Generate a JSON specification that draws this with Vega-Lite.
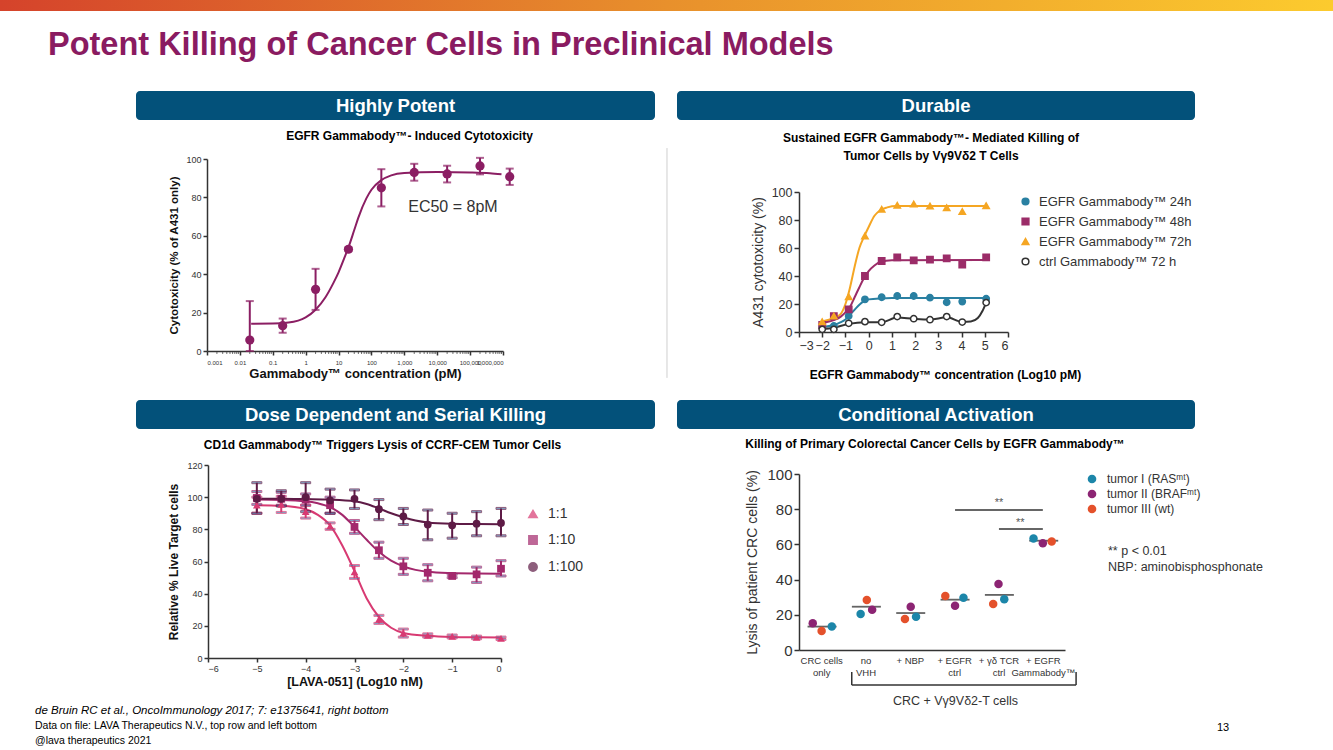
{
"$schema": "https://vega.github.io/schema/vega-lite/v6.json",
"padding": 0,
"background": "white",
"columns": 4,
"bounds": "flush",
"align": "each",
"spacing": 0,
"resolve": {
 "scale": {"x": "independent", "y": "independent", "color": "independent", "fill": "independent", "stroke": "independent", "shape": "independent"}
},
"config": {
 "view": {"stroke": null},
 "font": "Liberation Sans",
 "axis": {"grid": false, "domainColor": "#333333", "tickColor": "#333333", "labelColor": "#333333", "titleColor": "#111111", "domainWidth": 1.5, "tickWidth": 1.5, "labelOverlap": false}
},
"concat": [
 {
  "width": 136, "height": 91,
  "data": {"values": [{}]},
  "mark": {"type": "rect", "color": {"gradient": "linear", "x1": 0, "y1": 0, "x2": 1, "y2": 0, "stops": [{"offset": 0, "color": "#D5432B"}, {"offset": 0.5, "color": "#E8902C"}, {"offset": 1, "color": "#FCCB2E"}]}},
  "encoding": {
   "x": {"datum": 0, "type": "quantitative", "scale": {"domain": [0, 1], "range": [0, 1333], "nice": false}, "axis": null},
   "x2": {"datum": 1},
   "y": {"datum": 0, "type": "quantitative", "scale": {"domain": [0, 1], "range": [11, 0], "nice": false}, "axis": null},
   "y2": {"datum": 1}
  },
  "title": {"text": "Potent Killing of Cancer Cells in Preclinical Models", "orient": "bottom", "anchor": "start", "frame": "group", "dx": 48, "offset": -36, "baseline": "alphabetic", "fontSize": 32.5, "fontWeight": "bold", "color": "#8A1B61"}
 },
 {"width": 1, "height": 1, "data": {"values": []}, "mark": "text", "encoding": {}},
 {"width": 1, "height": 1, "data": {"values": []}, "mark": "text", "encoding": {}},
 {"width": 1, "height": 1, "data": {"values": []}, "mark": "text", "encoding": {}},

 {"width": 136, "height": 1, "data": {"values": []}, "mark": "text", "encoding": {}},
 {
  "width": 519, "height": 68,
  "data": {"values": [{"label": "Highly Potent"}]},
  "layer": [
   {"mark": {"type": "rect", "color": "#03517A", "cornerRadius": 4},
    "encoding": {"x": {"datum": 0, "type": "quantitative", "scale": {"domain": [0, 1], "nice": false}, "axis": null}, "x2": {"datum": 1}, "y": {"datum": 0, "type": "quantitative", "scale": {"domain": [0, 1], "range": [29, 0], "nice": false}, "axis": null}, "y2": {"datum": 1}}},
   {"mark": {"type": "text", "color": "white", "fontSize": 18.5, "fontWeight": "bold"},
    "encoding": {"x": {"datum": 0.5, "type": "quantitative"}, "y": {"datum": 0.5, "type": "quantitative"}, "text": {"field": "label"}}}
  ]
 },
 {"width": 22, "height": 1, "data": {"values": []}, "mark": "text", "encoding": {}},
 {
  "width": 518, "height": 68,
  "data": {"values": [{"label": "Durable"}]},
  "layer": [
   {"mark": {"type": "rect", "color": "#03517A", "cornerRadius": 4},
    "encoding": {"x": {"datum": 0, "type": "quantitative", "scale": {"domain": [0, 1], "nice": false}, "axis": null}, "x2": {"datum": 1}, "y": {"datum": 0, "type": "quantitative", "scale": {"domain": [0, 1], "range": [29, 0], "nice": false}, "axis": null}, "y2": {"datum": 1}}},
   {"mark": {"type": "text", "color": "white", "fontSize": 18.5, "fontWeight": "bold"},
    "encoding": {"x": {"datum": 0.5, "type": "quantitative"}, "y": {"datum": 0.5, "type": "quantitative"}, "text": {"field": "label"}}}
  ]
 },

 {"width": 1, "height": 1, "data": {"values": []}, "mark": "text", "encoding": {}},
 {
  "width": 519, "height": 192,
  "title": {"text": "EGFR Gammabody™- Induced Cytotoxicity", "fontSize": 12, "fontWeight": "bold", "color": "#000000", "anchor": "middle", "frame": "group", "dx": 14, "offset": 12},
  "layer": [
   {
    "data": {"values": [{"c":0.022,"y":14.2},{"c":0.1,"y":14.3},{"c":0.3,"y":14.8},{"c":1,"y":17.5},{"c":2,"y":21.5},{"c":4,"y":28},{"c":7,"y":35.5},{"c":10,"y":41},{"c":15,"y":48.5},{"c":20,"y":54},{"c":30,"y":63},{"c":40,"y":69.5},{"c":70,"y":79.5},{"c":100,"y":84},{"c":200,"y":89},{"c":400,"y":91.5},{"c":1000,"y":92.7},{"c":10000,"y":93.2},{"c":100000,"y":93},{"c":400000,"y":92.6},{"c":900000,"y":92}]},
    "mark": {"type": "line", "color": "#8B1E63", "strokeWidth": 2, "interpolate": "monotone"},
    "encoding": {
     "x": {"field": "c", "type": "quantitative", "title": "Gammabody™ concentration (pM)", "scale": {"type": "log", "domain": [0.001, 1000000], "range": [71, 367], "nice": false},
           "axis": {"values": [0.001, 0.01, 0.1, 1, 10, 100, 1000, 10000, 100000, 1000000], "tickCount": 20, "format": ",", "labelOverlap": false, "labelFontSize": 6, "tickSize": 4, "labelPadding": 4, "titleFontSize": 13, "titleFontWeight": "bold", "titlePadding": 2, "titleColor": "#111111"}},
     "y": {"field": "y", "type": "quantitative", "title": "Cytotoxicity (% of A431 only)", "scale": {"domain": [0, 100], "nice": false},
           "axis": {"values": [0, 20, 40, 60, 80, 100], "tickCount": 20, "format": "d", "labelOverlap": false, "offset": -71, "labelFontSize": 9, "tickSize": 4, "titleFontSize": 11.5, "titleFontWeight": "bold", "titlePadding": 6}}
    }
   },
   {
    "data": {"values": [{"m":0.002},{"m":0.003},{"m":0.004},{"m":0.005},{"m":0.006},{"m":0.007},{"m":0.008},{"m":0.009},{"m":0.02},{"m":0.03},{"m":0.04},{"m":0.05},{"m":0.06},{"m":0.07},{"m":0.08},{"m":0.09},{"m":0.2},{"m":0.3},{"m":0.4},{"m":0.5},{"m":0.6},{"m":0.7},{"m":0.8},{"m":0.9},{"m":2},{"m":3},{"m":4},{"m":5},{"m":6},{"m":7},{"m":8},{"m":9},{"m":20},{"m":30},{"m":40},{"m":50},{"m":60},{"m":70},{"m":80},{"m":90},{"m":200},{"m":300},{"m":400},{"m":500},{"m":600},{"m":700},{"m":800},{"m":900},{"m":2000},{"m":3000},{"m":4000},{"m":5000},{"m":6000},{"m":7000},{"m":8000},{"m":9000},{"m":20000},{"m":30000},{"m":40000},{"m":50000},{"m":60000},{"m":70000},{"m":80000},{"m":90000},{"m":200000},{"m":300000},{"m":400000},{"m":500000},{"m":600000},{"m":700000},{"m":800000},{"m":900000}]},
    "mark": {"type": "tick", "orient": "vertical", "size": 3, "thickness": 1, "color": "#333333", "yOffset": 1.5},
    "encoding": {"x": {"field": "m", "type": "quantitative", "title": "Gammabody™ concentration (pM)"}, "y": {"datum": 0, "type": "quantitative", "title": "Cytotoxicity (% of A431 only)"}}
   },
   {
    "data": {"values": [{"c":0.02,"y":5.7,"lo":0,"hi":26},{"c":0.2,"y":13.2,"lo":9.5,"hi":16.9},{"c":2,"y":32.1,"lo":21.4,"hi":42.8},{"c":20,"y":53,"lo":52,"hi":54},{"c":200,"y":85,"lo":75.3,"hi":94.7},{"c":2000,"y":93,"lo":88.7,"hi":97.5},{"c":20000,"y":92.2,"lo":87.8,"hi":96.5},{"c":200000,"y":96.4,"lo":92,"hi":100.6},{"c":1600000,"y":90.8,"lo":86.5,"hi":95}]},
    "layer": [
     {"mark": {"type": "errorbar", "ticks": {"size": 8}, "color": "#8B1E63", "thickness": 2},
      "encoding": {"x": {"field": "c", "type": "quantitative", "title": "Gammabody™ concentration (pM)"}, "y": {"field": "lo", "type": "quantitative", "title": "Cytotoxicity (% of A431 only)"}, "y2": {"field": "hi"}}},
     {"mark": {"type": "circle", "size": 85, "opacity": 1, "color": "#8B1E63"},
      "encoding": {"x": {"field": "c", "type": "quantitative", "title": "Gammabody™ concentration (pM)"}, "y": {"field": "y", "type": "quantitative", "title": "Cytotoxicity (% of A431 only)"}}}
    ]
   },
   {
    "data": {"values": [{"label": "EC50 = 8pM"}]},
    "mark": {"type": "text", "fontSize": 16, "color": "#333333"},
    "encoding": {"x": {"datum": 30000, "type": "quantitative"}, "y": {"datum": 75, "type": "quantitative"}, "text": {"field": "label"}}
   }
  ]
 },
 {
  "width": 22, "height": 192,
  "data": {"values": [{}]},
  "mark": {"type": "rule", "color": "#cfcfcf", "strokeWidth": 1},
  "encoding": {
   "x": {"datum": 0.545, "type": "quantitative", "scale": {"domain": [0, 1], "nice": false}, "axis": null},
   "y": {"datum": -0.14, "type": "quantitative", "scale": {"domain": [0, 1], "nice": false}, "axis": null},
   "y2": {"datum": 1.057}
  }
 },
 {
  "width": 518, "height": 173,
  "title": {"text": ["Sustained EGFR Gammabody™- Mediated Killing of", "Tumor Cells by Vγ9Vδ2 T Cells"], "fontSize": 12, "fontWeight": "bold", "color": "#000000", "anchor": "middle", "frame": "group", "dx": -5, "offset": -4, "lineHeight": 18},
  "layer": [
   {
    "data": {"values": [
     {"s":"EGFR Gammabody™ 72h","x":-2,"y":7.5},{"s":"EGFR Gammabody™ 72h","x":-1.5,"y":10},{"s":"EGFR Gammabody™ 72h","x":-1.2,"y":13},{"s":"EGFR Gammabody™ 72h","x":-1,"y":20},{"s":"EGFR Gammabody™ 72h","x":-0.8,"y":32},{"s":"EGFR Gammabody™ 72h","x":-0.6,"y":47},{"s":"EGFR Gammabody™ 72h","x":-0.4,"y":60},{"s":"EGFR Gammabody™ 72h","x":-0.2,"y":68},{"s":"EGFR Gammabody™ 72h","x":0,"y":75},{"s":"EGFR Gammabody™ 72h","x":0.25,"y":83},{"s":"EGFR Gammabody™ 72h","x":0.5,"y":87},{"s":"EGFR Gammabody™ 72h","x":0.8,"y":89},{"s":"EGFR Gammabody™ 72h","x":1.2,"y":90},{"s":"EGFR Gammabody™ 72h","x":5,"y":90},
     {"s":"EGFR Gammabody™ 48h","x":-2,"y":6.5},{"s":"EGFR Gammabody™ 48h","x":-1.5,"y":8.5},{"s":"EGFR Gammabody™ 48h","x":-1.2,"y":11},{"s":"EGFR Gammabody™ 48h","x":-1,"y":14},{"s":"EGFR Gammabody™ 48h","x":-0.8,"y":18},{"s":"EGFR Gammabody™ 48h","x":-0.6,"y":25},{"s":"EGFR Gammabody™ 48h","x":-0.4,"y":32},{"s":"EGFR Gammabody™ 48h","x":-0.2,"y":38.5},{"s":"EGFR Gammabody™ 48h","x":0,"y":43.5},{"s":"EGFR Gammabody™ 48h","x":0.25,"y":47.5},{"s":"EGFR Gammabody™ 48h","x":0.5,"y":50},{"s":"EGFR Gammabody™ 48h","x":1,"y":51.2},{"s":"EGFR Gammabody™ 48h","x":5,"y":51.5},
     {"s":"EGFR Gammabody™ 24h","x":-2,"y":3.5},{"s":"EGFR Gammabody™ 24h","x":-1.5,"y":5},{"s":"EGFR Gammabody™ 24h","x":-1.2,"y":7},{"s":"EGFR Gammabody™ 24h","x":-1,"y":9},{"s":"EGFR Gammabody™ 24h","x":-0.8,"y":12.5},{"s":"EGFR Gammabody™ 24h","x":-0.6,"y":16},{"s":"EGFR Gammabody™ 24h","x":-0.4,"y":19.5},{"s":"EGFR Gammabody™ 24h","x":-0.2,"y":22},{"s":"EGFR Gammabody™ 24h","x":0,"y":23.3},{"s":"EGFR Gammabody™ 24h","x":0.5,"y":24},{"s":"EGFR Gammabody™ 24h","x":1,"y":24.2},{"s":"EGFR Gammabody™ 24h","x":5,"y":24.2},
     {"s":"ctrl Gammabody™ 72 h","x":-2,"y":2},{"s":"ctrl Gammabody™ 72 h","x":-1.5,"y":3},{"s":"ctrl Gammabody™ 72 h","x":-0.86,"y":5.8},{"s":"ctrl Gammabody™ 72 h","x":-0.16,"y":7},{"s":"ctrl Gammabody™ 72 h","x":0.56,"y":7},{"s":"ctrl Gammabody™ 72 h","x":1.23,"y":10.3},{"s":"ctrl Gammabody™ 72 h","x":1.94,"y":9.4},{"s":"ctrl Gammabody™ 72 h","x":2.64,"y":8.9},{"s":"ctrl Gammabody™ 72 h","x":3.36,"y":10.5},{"s":"ctrl Gammabody™ 72 h","x":4.03,"y":7.2},{"s":"ctrl Gammabody™ 72 h","x":4.4,"y":7.5},{"s":"ctrl Gammabody™ 72 h","x":4.7,"y":10},{"s":"ctrl Gammabody™ 72 h","x":4.9,"y":15},{"s":"ctrl Gammabody™ 72 h","x":5.06,"y":21}
    ]},
    "mark": {"type": "line", "strokeWidth": 2, "interpolate": "monotone"},
    "encoding": {
     "x": {"field": "x", "type": "quantitative", "title": "EGFR Gammabody™ concentration (Log10 pM)", "scale": {"domain": [-3, 6], "range": [122, 331], "nice": false},
           "axis": {"values": [-3, -2, -1, 0, 1, 2, 3, 4, 5, 6], "tickCount": 20, "format": "d", "labelOverlap": false, "labelFontSize": 12.5, "tickSize": 5, "titleFontSize": 12, "titleFontWeight": "bold", "titleColor": "#000000", "titlePadding": 18, "titleX": 268, "titleAlign": "center"}},
     "y": {"field": "y", "type": "quantitative", "title": "A431 cytotoxicity (%)", "scale": {"domain": [0, 100], "range": [173, 33], "nice": false},
           "axis": {"values": [0, 20, 40, 60, 80, 100], "tickCount": 20, "format": "d", "labelOverlap": false, "offset": -122, "labelFontSize": 12.5, "tickSize": 5, "titleFontSize": 14, "titleFontWeight": "normal", "titleColor": "#333333", "titlePadding": 6}},
     "stroke": {"field": "s", "type": "nominal", "scale": {"domain": ["EGFR Gammabody™ 24h", "EGFR Gammabody™ 48h", "EGFR Gammabody™ 72h", "ctrl Gammabody™ 72 h"], "range": ["#2A80A2", "#9B2C68", "#F5A623", "#333333"]},
                "legend": {"title": null, "orient": "none", "legendX": 342, "legendY": 36, "labelFontSize": 13, "labelColor": "#333333", "rowPadding": 6, "symbolSize": 45, "symbolStrokeWidth": 1.5, "labelOffset": 7}}
    }
   },
   {
    "data": {"values": [
     {"s":"EGFR Gammabody™ 24h","x":-2,"y":3.8},{"s":"EGFR Gammabody™ 24h","x":-1.5,"y":4.3},{"s":"EGFR Gammabody™ 24h","x":-0.86,"y":11.4},{"s":"EGFR Gammabody™ 24h","x":-0.16,"y":23.3},{"s":"EGFR Gammabody™ 24h","x":0.56,"y":24.8},{"s":"EGFR Gammabody™ 24h","x":1.23,"y":25.7},{"s":"EGFR Gammabody™ 24h","x":1.94,"y":25.7},{"s":"EGFR Gammabody™ 24h","x":2.64,"y":24.5},{"s":"EGFR Gammabody™ 24h","x":3.36,"y":21.2},{"s":"EGFR Gammabody™ 24h","x":4.03,"y":21.7},{"s":"EGFR Gammabody™ 24h","x":5.06,"y":23.8},
     {"s":"EGFR Gammabody™ 48h","x":-2,"y":5},{"s":"EGFR Gammabody™ 48h","x":-1.5,"y":11.4},{"s":"EGFR Gammabody™ 48h","x":-0.86,"y":16.2},{"s":"EGFR Gammabody™ 48h","x":-0.16,"y":40},{"s":"EGFR Gammabody™ 48h","x":0.56,"y":50.7},{"s":"EGFR Gammabody™ 48h","x":1.23,"y":53.3},{"s":"EGFR Gammabody™ 48h","x":1.94,"y":51.2},{"s":"EGFR Gammabody™ 48h","x":2.64,"y":51.7},{"s":"EGFR Gammabody™ 48h","x":3.36,"y":52.6},{"s":"EGFR Gammabody™ 48h","x":4.03,"y":48.1},{"s":"EGFR Gammabody™ 48h","x":5.06,"y":53.3},
     {"s":"EGFR Gammabody™ 72h","x":-2,"y":7.4},{"s":"EGFR Gammabody™ 72h","x":-1.5,"y":11.4},{"s":"EGFR Gammabody™ 72h","x":-0.86,"y":25.2},{"s":"EGFR Gammabody™ 72h","x":-0.16,"y":68.6},{"s":"EGFR Gammabody™ 72h","x":0.56,"y":87.6},{"s":"EGFR Gammabody™ 72h","x":1.23,"y":90.5},{"s":"EGFR Gammabody™ 72h","x":1.94,"y":91.4},{"s":"EGFR Gammabody™ 72h","x":2.64,"y":90},{"s":"EGFR Gammabody™ 72h","x":3.36,"y":88.8},{"s":"EGFR Gammabody™ 72h","x":4.03,"y":86},{"s":"EGFR Gammabody™ 72h","x":5.06,"y":90.2},
     {"s":"ctrl Gammabody™ 72 h","x":-2,"y":1.9},{"s":"ctrl Gammabody™ 72 h","x":-1.5,"y":1.9},{"s":"ctrl Gammabody™ 72 h","x":-0.86,"y":6.2},{"s":"ctrl Gammabody™ 72 h","x":-0.16,"y":7.4},{"s":"ctrl Gammabody™ 72 h","x":0.56,"y":6.9},{"s":"ctrl Gammabody™ 72 h","x":1.23,"y":11},{"s":"ctrl Gammabody™ 72 h","x":1.94,"y":9.5},{"s":"ctrl Gammabody™ 72 h","x":2.64,"y":8.8},{"s":"ctrl Gammabody™ 72 h","x":3.36,"y":11},{"s":"ctrl Gammabody™ 72 h","x":4.03,"y":7.1},{"s":"ctrl Gammabody™ 72 h","x":5.06,"y":21}
    ]},
    "mark": {"type": "point", "strokeWidth": 1.5, "opacity": 1, "size": 40},
    "encoding": {
     "x": {"field": "x", "type": "quantitative", "title": "EGFR Gammabody™ concentration (Log10 pM)"},
     "y": {"field": "y", "type": "quantitative", "title": "A431 cytotoxicity (%)"},
     "shape": {"field": "s", "type": "nominal", "scale": {"domain": ["EGFR Gammabody™ 24h", "EGFR Gammabody™ 48h", "EGFR Gammabody™ 72h", "ctrl Gammabody™ 72 h"], "range": ["circle", "square", "triangle-up", "circle"]},
               "legend": {"title": null, "orient": "none", "legendX": 342, "legendY": 36, "labelFontSize": 13, "labelColor": "#333333", "rowPadding": 6, "symbolSize": 45, "symbolStrokeWidth": 1.5, "labelOffset": 7}},
     "fill": {"field": "s", "type": "nominal", "scale": {"domain": ["EGFR Gammabody™ 24h", "EGFR Gammabody™ 48h", "EGFR Gammabody™ 72h", "ctrl Gammabody™ 72 h"], "range": ["#2A80A2", "#9B2C68", "#F5A623", "#FFFFFF"]},
              "legend": {"title": null, "orient": "none", "legendX": 342, "legendY": 36, "labelFontSize": 13, "labelColor": "#333333", "rowPadding": 6, "symbolSize": 45, "symbolStrokeWidth": 1.5, "labelOffset": 7}},
     "stroke": {"field": "s", "type": "nominal",
                "legend": {"title": null, "orient": "none", "legendX": 342, "legendY": 36, "labelFontSize": 13, "labelColor": "#333333", "rowPadding": 6, "symbolSize": 45, "symbolStrokeWidth": 1.5, "labelOffset": 7}}
    }
   }
  ]
 },

 {"width": 1, "height": 49, "data": {"values": []}, "mark": "text", "encoding": {}},
 {"width": 1, "height": 1, "data": {"values": []}, "mark": "text", "encoding": {}},
 {"width": 1, "height": 1, "data": {"values": []}, "mark": "text", "encoding": {}},
 {"width": 1, "height": 1, "data": {"values": []}, "mark": "text", "encoding": {}},

 {"width": 1, "height": 1, "data": {"values": []}, "mark": "text", "encoding": {}},
 {
  "width": 519, "height": 65,
  "data": {"values": [{"label": "Dose Dependent and Serial Killing"}]},
  "layer": [
   {"mark": {"type": "rect", "color": "#03517A", "cornerRadius": 4},
    "encoding": {"x": {"datum": 0, "type": "quantitative", "scale": {"domain": [0, 1], "nice": false}, "axis": null}, "x2": {"datum": 1}, "y": {"datum": 0, "type": "quantitative", "scale": {"domain": [0, 1], "range": [29, 0], "nice": false}, "axis": null}, "y2": {"datum": 1}}},
   {"mark": {"type": "text", "color": "white", "fontSize": 18.5, "fontWeight": "bold"},
    "encoding": {"x": {"datum": 0.5, "type": "quantitative"}, "y": {"datum": 0.5, "type": "quantitative"}, "text": {"field": "label"}}}
  ]
 },
 {"width": 1, "height": 1, "data": {"values": []}, "mark": "text", "encoding": {}},
 {
  "width": 518, "height": 65,
  "data": {"values": [{"label": "Conditional Activation"}]},
  "layer": [
   {"mark": {"type": "rect", "color": "#03517A", "cornerRadius": 4},
    "encoding": {"x": {"datum": 0, "type": "quantitative", "scale": {"domain": [0, 1], "nice": false}, "axis": null}, "x2": {"datum": 1}, "y": {"datum": 0, "type": "quantitative", "scale": {"domain": [0, 1], "range": [29, 0], "nice": false}, "axis": null}, "y2": {"datum": 1}}},
   {"mark": {"type": "text", "color": "white", "fontSize": 18.5, "fontWeight": "bold"},
    "encoding": {"x": {"datum": 0.5, "type": "quantitative"}, "y": {"datum": 0.5, "type": "quantitative"}, "text": {"field": "label"}}}
  ]
 },

 {"width": 1, "height": 1, "data": {"values": []}, "mark": "text", "encoding": {}},
 {
  "width": 519, "height": 193,
  "title": {"text": "CD1d Gammabody™ Triggers Lysis of CCRF-CEM Tumor Cells", "fontSize": 12, "fontWeight": "bold", "color": "#000000", "anchor": "middle", "frame": "group", "dx": -13, "offset": 9},
  "layer": [
   {
    "data": {"values": [
     {"s":"1:1","x":-5,"y":95},{"s":"1:1","x":-4.5,"y":94.6},{"s":"1:1","x":-4,"y":92.5},{"s":"1:1","x":-3.75,"y":89},{"s":"1:1","x":-3.5,"y":82.5},{"s":"1:1","x":-3.25,"y":70},{"s":"1:1","x":-3,"y":54},{"s":"1:1","x":-2.75,"y":37},{"s":"1:1","x":-2.5,"y":25.5},{"s":"1:1","x":-2.25,"y":18.8},{"s":"1:1","x":-2,"y":15.6},{"s":"1:1","x":-1.5,"y":13.8},{"s":"1:1","x":-1,"y":13.1},{"s":"1:1","x":-0.5,"y":12.9},{"s":"1:1","x":0,"y":12.8},
     {"s":"1:10","x":-5,"y":98.5},{"s":"1:10","x":-4.5,"y":98.3},{"s":"1:10","x":-4,"y":97.5},{"s":"1:10","x":-3.75,"y":96.2},{"s":"1:10","x":-3.5,"y":93.8},{"s":"1:10","x":-3.25,"y":89},{"s":"1:10","x":-3,"y":81.5},{"s":"1:10","x":-2.75,"y":73.5},{"s":"1:10","x":-2.5,"y":66},{"s":"1:10","x":-2.25,"y":60.5},{"s":"1:10","x":-2,"y":57},{"s":"1:10","x":-1.75,"y":54.8},{"s":"1:10","x":-1.5,"y":53.6},{"s":"1:10","x":-1,"y":52.8},{"s":"1:10","x":-0.5,"y":52.5},{"s":"1:10","x":0,"y":52.4},
     {"s":"1:100","x":-5,"y":99},{"s":"1:100","x":-4.5,"y":99},{"s":"1:100","x":-4,"y":98.8},{"s":"1:100","x":-3.5,"y":98.5},{"s":"1:100","x":-3,"y":97.5},{"s":"1:100","x":-2.75,"y":95.8},{"s":"1:100","x":-2.5,"y":93},{"s":"1:100","x":-2.25,"y":90},{"s":"1:100","x":-2,"y":87.5},{"s":"1:100","x":-1.75,"y":85.5},{"s":"1:100","x":-1.5,"y":84.3},{"s":"1:100","x":-1,"y":83.5},{"s":"1:100","x":-0.5,"y":83.3},{"s":"1:100","x":0,"y":83.2}
    ]},
    "mark": {"type": "line", "strokeWidth": 2, "interpolate": "monotone"},
    "encoding": {
     "x": {"field": "x", "type": "quantitative", "title": "[LAVA-051] (Log10 nM)", "scale": {"domain": [-6, 0], "range": [72, 365], "nice": false},
           "axis": {"values": [-6, -5, -4, -3, -2, -1, 0], "tickCount": 20, "format": "d", "labelOverlap": false, "labelFontSize": 9, "tickSize": 4, "labelPadding": 2, "titleFontSize": 12.5, "titleFontWeight": "bold", "titlePadding": 2}},
     "y": {"field": "y", "type": "quantitative", "title": "Relative % Live Target cells", "scale": {"domain": [0, 120], "nice": false},
           "axis": {"values": [0, 20, 40, 60, 80, 100, 120], "tickCount": 20, "format": "d", "labelOverlap": false, "offset": -72, "labelFontSize": 9, "tickSize": 4, "titleFontSize": 12, "titleFontWeight": "bold", "titlePadding": 6}},
     "stroke": {"field": "s", "type": "nominal", "scale": {"domain": ["1:1", "1:10", "1:100"], "range": ["#D83A72", "#A3286C", "#5E1B46"]},
                "legend": {"title": null, "orient": "none", "legendX": 390, "legendY": 42, "labelFontSize": 14, "labelColor": "#333333", "rowPadding": 11, "symbolSize": 70, "labelOffset": 8}}
    }
   },
   {
    "data": {"values": [
     {"s":"1:1","x":-5,"y":95,"lo":90,"hi":100},{"s":"1:1","x":-4.5,"y":95.5,"lo":90.5,"hi":100.5},{"s":"1:1","x":-4,"y":91,"lo":87,"hi":95},{"s":"1:1","x":-3.5,"y":82,"lo":80,"hi":84},{"s":"1:1","x":-3,"y":53.5,"lo":49.5,"hi":57.5},{"s":"1:1","x":-2.5,"y":24,"lo":21.5,"hi":26.5},{"s":"1:1","x":-2,"y":15.5,"lo":13,"hi":18},{"s":"1:1","x":-1.5,"y":14,"lo":13,"hi":15},{"s":"1:1","x":-1,"y":13.4,"lo":12.5,"hi":14.3},{"s":"1:1","x":-0.5,"y":12.8,"lo":12,"hi":13.6},{"s":"1:1","x":0,"y":12.2,"lo":11.5,"hi":13},
     {"s":"1:10","x":-5,"y":99.5,"lo":95.5,"hi":103.5},{"s":"1:10","x":-4.5,"y":99,"lo":95,"hi":103},{"s":"1:10","x":-4,"y":98.5,"lo":95,"hi":102},{"s":"1:10","x":-3.5,"y":95,"lo":90,"hi":100},{"s":"1:10","x":-3,"y":81.5,"lo":77.5,"hi":85.5},{"s":"1:10","x":-2.5,"y":67,"lo":62,"hi":72},{"s":"1:10","x":-2,"y":57,"lo":52,"hi":62},{"s":"1:10","x":-1.5,"y":53,"lo":48,"hi":58},{"s":"1:10","x":-1,"y":51,"lo":50,"hi":52},{"s":"1:10","x":-0.5,"y":52,"lo":47,"hi":56.5},{"s":"1:10","x":0,"y":55.5,"lo":51,"hi":60.5},
     {"s":"1:100","x":-5,"y":99,"lo":90,"hi":109},{"s":"1:100","x":-4.5,"y":99,"lo":94.5,"hi":104},{"s":"1:100","x":-4,"y":100,"lo":91,"hi":109},{"s":"1:100","x":-3.5,"y":98,"lo":90,"hi":105},{"s":"1:100","x":-3,"y":99,"lo":93,"hi":104.5},{"s":"1:100","x":-2.5,"y":92.5,"lo":86,"hi":98.5},{"s":"1:100","x":-2,"y":88,"lo":83,"hi":93},{"s":"1:100","x":-1.5,"y":83,"lo":73.5,"hi":92},{"s":"1:100","x":-1,"y":82.5,"lo":74.5,"hi":90},{"s":"1:100","x":-0.5,"y":83.5,"lo":76,"hi":91},{"s":"1:100","x":0,"y":84,"lo":76,"hi":93}
    ]},
    "layer": [
     {"mark": {"type": "errorbar", "ticks": {"size": 10}, "thickness": 2},
      "encoding": {
       "x": {"field": "x", "type": "quantitative", "title": "[LAVA-051] (Log10 nM)"},
       "y": {"field": "lo", "type": "quantitative", "title": "Relative % Live Target cells"}, "y2": {"field": "hi"},
       "stroke": {"field": "s", "type": "nominal",
                  "legend": {"title": null, "orient": "none", "legendX": 390, "legendY": 42, "labelFontSize": 14, "labelColor": "#333333", "rowPadding": 11, "symbolSize": 70, "labelOffset": 8}}
      }},
     {"mark": {"type": "point", "filled": true, "opacity": 1, "size": 60},
      "encoding": {
       "x": {"field": "x", "type": "quantitative", "title": "[LAVA-051] (Log10 nM)"},
       "y": {"field": "y", "type": "quantitative", "title": "Relative % Live Target cells"},
       "shape": {"field": "s", "type": "nominal", "scale": {"domain": ["1:1", "1:10", "1:100"], "range": ["triangle-up", "square", "circle"]},
                 "legend": {"title": null, "orient": "none", "legendX": 390, "legendY": 42, "labelFontSize": 14, "labelColor": "#333333", "rowPadding": 11, "symbolSize": 70, "labelOffset": 8}},
       "fill": {"field": "s", "type": "nominal", "scale": {"domain": ["1:1", "1:10", "1:100"], "range": ["#D83A72", "#A3286C", "#5E1B46"]},
                "legend": {"title": null, "orient": "none", "legendX": 390, "legendY": 42, "labelFontSize": 14, "labelColor": "#333333", "rowPadding": 11, "symbolSize": 70, "labelOffset": 8}}
      }}
    ]
   }
  ]
 },
 {"width": 1, "height": 1, "data": {"values": []}, "mark": "text", "encoding": {}},
 {
  "width": 518, "height": 185,
  "title": {"text": "Killing of Primary Colorectal Cancer Cells by EGFR Gammabody™", "fontSize": 12, "fontWeight": "bold", "color": "#000000", "anchor": "middle", "frame": "group", "dx": -1, "offset": 14},
  "layer": [
   {
    "data": {"values": [{"pos":0.52,"mean":13.3},{"pos":1.52,"mean":24.6},{"pos":2.52,"mean":21},{"pos":3.52,"mean":28.6},{"pos":4.52,"mean":31.3},{"pos":5.52,"mean":62.1}]},
    "mark": {"type": "tick", "orient": "horizontal", "size": 29, "thickness": 1.8, "color": "#222222"},
    "encoding": {
     "x": {"field": "pos", "type": "quantitative", "title": "CRC + Vγ9Vδ2-T cells", "scale": {"domain": [0, 6], "range": [122, 388], "nice": false},
           "axis": {"values": [0.5, 1.5, 2.5, 3.5, 4.5, 5.5], "tickCount": 20, "ticks": false, "labelOverlap": false, "labelFontSize": 9.5, "labelLineHeight": 12, "labelPadding": 10, "labelBaseline": "middle",
                    "labelExpr": "datum.value == 0.5 ? ['CRC cells', 'only'] : datum.value == 1.5 ? ['no', 'VHH'] : datum.value == 2.5 ? ['+ NBP', ''] : datum.value == 3.5 ? ['+ EGFR', 'ctrl'] : datum.value == 4.5 ? ['+ γδ TCR', 'ctrl'] : ['+ EGFR', 'Gammabody™']",
                    "titleFontSize": 12.5, "titleFontWeight": "normal", "titleColor": "#333333", "titlePadding": 18, "titleX": 278, "titleAlign": "center"}},
     "y": {"field": "mean", "type": "quantitative", "title": "Lysis of patient CRC cells (%)", "scale": {"domain": [0, 100], "range": [185, 9], "nice": false},
           "axis": {"values": [0, 20, 40, 60, 80, 100], "tickCount": 20, "format": "d", "labelOverlap": false, "offset": -122, "labelFontSize": 15, "tickSize": 5, "titleFontSize": 14, "titleFontWeight": "normal", "titleColor": "#333333", "titlePadding": 7}}
    }
   },
   {
    "data": {"values": [
     {"pos":0.31,"val":15.2,"t":"tumor II (BRAFᵐᵗ)"},{"pos":0.51,"val":10.8,"t":"tumor III (wt)"},{"pos":0.74,"val":13.3,"t":"tumor I (RASᵐᵗ)"},
     {"pos":1.39,"val":20.5,"t":"tumor I (RASᵐᵗ)"},{"pos":1.53,"val":28.4,"t":"tumor III (wt)"},{"pos":1.65,"val":22.9,"t":"tumor II (BRAFᵐᵗ)"},
     {"pos":2.39,"val":17.6,"t":"tumor III (wt)"},{"pos":2.52,"val":24.6,"t":"tumor II (BRAFᵐᵗ)"},{"pos":2.64,"val":18.9,"t":"tumor I (RASᵐᵗ)"},
     {"pos":3.30,"val":30.7,"t":"tumor III (wt)"},{"pos":3.52,"val":25.2,"t":"tumor II (BRAFᵐᵗ)"},{"pos":3.71,"val":29.7,"t":"tumor I (RASᵐᵗ)"},
     {"pos":4.38,"val":26.1,"t":"tumor III (wt)"},{"pos":4.50,"val":37.5,"t":"tumor II (BRAFᵐᵗ)"},{"pos":4.63,"val":28.8,"t":"tumor I (RASᵐᵗ)"},
     {"pos":5.29,"val":63.4,"t":"tumor I (RASᵐᵗ)"},{"pos":5.50,"val":60.6,"t":"tumor II (BRAFᵐᵗ)"},{"pos":5.70,"val":61.6,"t":"tumor III (wt)"}
    ]},
    "mark": {"type": "circle", "size": 72, "opacity": 1},
    "encoding": {
     "x": {"field": "pos", "type": "quantitative", "title": "CRC + Vγ9Vδ2-T cells"},
     "y": {"field": "val", "type": "quantitative", "title": "Lysis of patient CRC cells (%)"},
     "color": {"field": "t", "type": "nominal", "scale": {"domain": ["tumor I (RASᵐᵗ)", "tumor II (BRAFᵐᵗ)", "tumor III (wt)"], "range": ["#1C86A9", "#8C2473", "#E4512B"]},
               "legend": {"title": null, "orient": "none", "legendX": 409, "legendY": 8, "labelFontSize": 12, "labelColor": "#333333", "rowPadding": 3, "symbolSize": 75, "labelOffset": 9}}
    }
   },
   {
    "data": {"values": [{"x":3.52,"x2":5.5,"y":79.5,"y2":79.5},{"x":4.51,"x2":5.5,"y":68.7,"y2":68.7},{"x":1.19,"x2":6.25,"y":-19.9,"y2":-19.9},{"x":1.19,"x2":1.19,"y":-19.9,"y2":-12.5},{"x":6.25,"x2":6.25,"y":-19.9,"y2":-12.5}]},
    "mark": {"type": "rule", "color": "#333333", "strokeWidth": 1.5},
    "encoding": {"x": {"field": "x", "type": "quantitative", "title": "CRC + Vγ9Vδ2-T cells"}, "x2": {"field": "x2"}, "y": {"field": "y", "type": "quantitative", "title": "Lysis of patient CRC cells (%)"}, "y2": {"field": "y2"}}
   },
   {
    "data": {"values": [{"x":4.51,"y":83.6,"t":"**"},{"x":4.99,"y":72.2,"t":"**"}]},
    "mark": {"type": "text", "fontSize": 11, "color": "#555555"},
    "encoding": {"x": {"field": "x", "type": "quantitative", "title": "CRC + Vγ9Vδ2-T cells"}, "y": {"field": "y", "type": "quantitative", "title": "Lysis of patient CRC cells (%)"}, "text": {"field": "t"}}
   },
   {
    "data": {"values": [{"note": ["** p < 0.01", "NBP: aminobisphosphonate"]}]},
    "mark": {"type": "text", "fontSize": 12.5, "color": "#333333", "align": "left", "baseline": "top", "lineHeight": 16},
    "encoding": {"x": {"datum": 6.97, "type": "quantitative"}, "y": {"datum": 59.7, "type": "quantitative"}, "text": {"field": "note"}}
   }
  ]
 },

 {"width": 1, "height": 1, "data": {"values": []}, "mark": "text", "encoding": {},
  "title": {"text": "de Bruin RC et al., OncoImmunology 2017; 7: e1375641, right bottom", "subtitle": ["Data on file: LAVA Therapeutics N.V., top row and left bottom", "@lava therapeutics 2021"], "orient": "bottom", "anchor": "start", "frame": "group", "dx": 35, "offset": 46, "baseline": "top", "fontSize": 11.5, "fontStyle": "italic", "fontWeight": "normal", "color": "#000000", "subtitleFontSize": 10.5, "subtitleColor": "#000000", "subtitlePadding": 4, "subtitleLineHeight": 15}},
 {"width": 1, "height": 1, "data": {"values": []}, "mark": "text", "encoding": {}},
 {"width": 1, "height": 1, "data": {"values": []}, "mark": "text", "encoding": {}},
 {"width": 1, "height": 1, "data": {"values": []}, "mark": "text", "encoding": {},
  "title": {"text": "13", "orient": "bottom", "anchor": "start", "frame": "group", "dx": 540, "offset": 63, "baseline": "top", "fontSize": 11, "fontWeight": "normal", "color": "#000000"}}
]
}
